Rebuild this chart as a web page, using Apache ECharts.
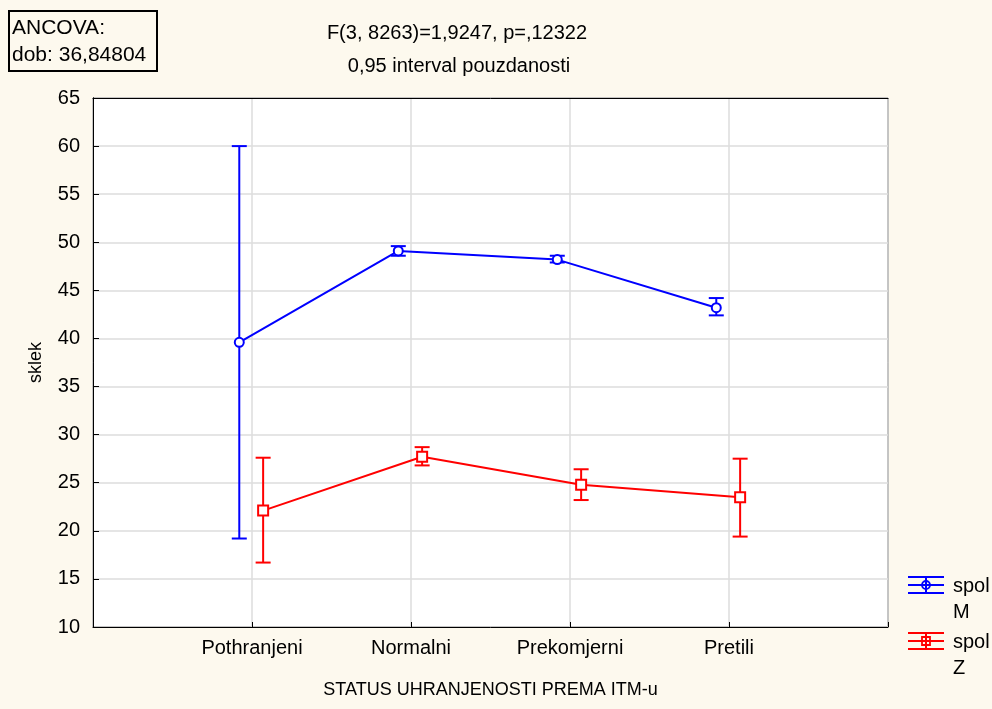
<!DOCTYPE html>
<html>
<head>
<meta charset="utf-8">
<script src="https://cdn.jsdelivr.net/npm/echarts@6/dist/echarts.min.js"></script>
<style>
  html, body { margin: 0; padding: 0; background: #fdf9ee; }
  #chart { width: 992px; height: 709px; }
</style>
</head>
<body>
<div id="chart"></div>
<script>
// categories on the x axis (placed at 1..4 on a 0..5 value axis)
var categories = ['Pothranjeni', 'Normalni', 'Prekomjerni', 'Pretili'];
// spol M : mean and 0,95 interval
var mMean = [39.6, 49.1, 48.2, 43.2];
var mLow  = [19.2, 48.6, 47.9, 42.4];
var mHigh = [60.0, 49.6, 48.6, 44.2];
// spol Z
var zMean = [22.1, 27.7, 24.8, 23.5];
var zLow  = [16.7, 26.8, 23.2, 19.4];
var zHigh = [27.6, 28.7, 26.4, 27.5];
var yTicks = [10, 15, 20, 25, 30, 35, 40, 45, 50, 55, 60, 65];

var FONT = '"Liberation Sans", Arial, sans-serif';
var BLUE = '#0000ff', RED = '#ff0000';
var mShift = -0.08, zShift = 0.07;

function pts(mean, shift) {
	return mean.map(function (v, i) { return [i + 1 + shift, v]; });
}
function bars(low, high, shift) {
	return low.map(function (v, i) { return [i + 1 + shift, v, high[i]]; });
}
function errorBar(color) {
	return function (params, api) {
		var x = api.value(0);
		var lo = api.coord([x, api.value(1)]);
		var hi = api.coord([x, api.value(2)]);
		var w = 7.5;
		var st = { stroke: color, lineWidth: 2 };
		return {
			type: 'group',
			children: [
				{ type: 'line', shape: { x1: lo[0], y1: lo[1], x2: hi[0], y2: hi[1] }, style: st },
				{ type: 'line', shape: { x1: lo[0] - w, y1: lo[1], x2: lo[0] + w, y2: lo[1] }, style: st },
				{ type: 'line', shape: { x1: hi[0] - w, y1: hi[1], x2: hi[0] + w, y2: hi[1] }, style: st }
			]
		};
	};
}
function legendIcon(x, y, color, isRect) {
	var st = { stroke: color, lineWidth: 2 };
	var kids = [
		{ type: 'line', shape: { x1: x, y1: y - 8, x2: x + 36, y2: y - 8 }, style: st },
		{ type: 'line', shape: { x1: x, y1: y, x2: x + 36, y2: y }, style: st },
		{ type: 'line', shape: { x1: x, y1: y + 8, x2: x + 36, y2: y + 8 }, style: st },
		{ type: 'line', shape: { x1: x + 18, y1: y - 8, x2: x + 18, y2: y + 8 }, style: st }
	];
	if (isRect) {
		kids.push({ type: 'rect', shape: { x: x + 14, y: y - 4, width: 8, height: 8 }, style: { fill: 'none', stroke: color, lineWidth: 1.8 } });
	} else {
		kids.push({ type: 'circle', shape: { cx: x + 18, cy: y, r: 4 }, style: { fill: 'none', stroke: color, lineWidth: 1.8 } });
	}
	return { type: 'group', children: kids };
}
function txt(s, x, y, size, align) {
	return { type: 'text', x: x, y: y, z: 10,
		style: { text: s, font: size + 'px ' + FONT, fill: '#000', align: align || 'left', verticalAlign: 'middle' } };
}

var myChart = echarts.init(document.getElementById('chart'));
var option = {
	backgroundColor: '#fdf9ee',
	animation: false,
	textStyle: { fontFamily: FONT },
	grid: {
		left: 93, right: 104, top: 98, bottom: 82,
		show: true, backgroundColor: '#ffffff', borderColor: '#000000', borderWidth: 1
	},
	xAxis: [{
		type: 'value', min: 0, max: 5, interval: 1,
		name: 'STATUS UHRANJENOSTI PREMA ITM-u', nameLocation: 'middle', nameGap: 54,
		nameTextStyle: { fontSize: 18, color: '#000', fontFamily: FONT },
		axisLine: { show: true, lineStyle: { color: '#000' } },
		axisTick: { show: true, inside: true, length: 5, lineStyle: { color: '#000' } },
		axisLabel: {
			fontSize: 20, color: '#000', margin: 11, fontFamily: FONT,
			formatter: function (v) { return categories[v - 1] || ''; }
		},
		splitLine: { show: true, lineStyle: { color: '#dcdcdc', width: 1.5 } }
	}, {
		type: 'value', min: 0, max: 5, position: 'top',
		axisLine: { show: true, lineStyle: { color: '#000' } },
		axisTick: { show: false }, axisLabel: { show: false }, splitLine: { show: false }
	}],
	yAxis: [{
		type: 'value', min: yTicks[0], max: yTicks[yTicks.length - 1], interval: 5,
		name: 'sklek', nameLocation: 'middle', nameGap: 48,
		nameTextStyle: { fontSize: 18, color: '#000', fontFamily: FONT },
		axisLine: { show: true, lineStyle: { color: '#000' } },
		axisTick: { show: true, inside: true, length: 6, lineStyle: { color: '#000' } },
		axisLabel: { fontSize: 20, color: '#000', margin: 13, fontFamily: FONT },
		splitLine: { show: true, lineStyle: { color: '#dcdcdc', width: 1.5 } }
	}, {
		type: 'value', min: yTicks[0], max: yTicks[yTicks.length - 1], position: 'right',
		axisLine: { show: true, lineStyle: { color: '#000' } },
		axisTick: { show: false }, axisLabel: { show: false }, splitLine: { show: false }
	}],
	graphic: [
		{ type: 'rect', left: 8, top: 10, shape: { width: 148, height: 60 },
		  style: { fill: '#fdf9ee', stroke: '#000', lineWidth: 2 } },
		txt('ANCOVA:', 12, 28, 21),
		txt('dob: 36,84804', 12, 55, 21),
		txt('F(3, 8263)=1,9247, p=,12322', 457, 33, 20, 'center'),
		txt('0,95 interval pouzdanosti', 459, 66, 20, 'center'),
		legendIcon(908, 585, BLUE, false),
		txt('spol', 953, 586, 20),
		txt('M', 953, 612, 20),
		legendIcon(908, 641, RED, true),
		txt('spol', 953, 642, 20),
		txt('Z', 953, 668, 20)
	],
	series: [
		{
			name: 'spol M', type: 'line', data: pts(mMean, mShift),
			symbol: 'emptyCircle', symbolSize: 9,
			lineStyle: { color: BLUE, width: 2 },
			itemStyle: { color: BLUE, borderWidth: 1.8 }, z: 3
		},
		{
			name: 'spol M ci', type: 'custom', data: bars(mLow, mHigh, mShift),
			renderItem: errorBar(BLUE), encode: { x: 0, y: [1, 2] }, z: 2
		},
		{
			name: 'spol Z', type: 'line', data: pts(zMean, zShift),
			symbol: 'emptyRect', symbolSize: 10,
			lineStyle: { color: RED, width: 2 },
			itemStyle: { color: RED, borderWidth: 1.8 }, z: 3
		},
		{
			name: 'spol Z ci', type: 'custom', data: bars(zLow, zHigh, zShift),
			renderItem: errorBar(RED), encode: { x: 0, y: [1, 2] }, z: 2
		}
	]
};
myChart.setOption(option);
</script>
</body>
</html>
